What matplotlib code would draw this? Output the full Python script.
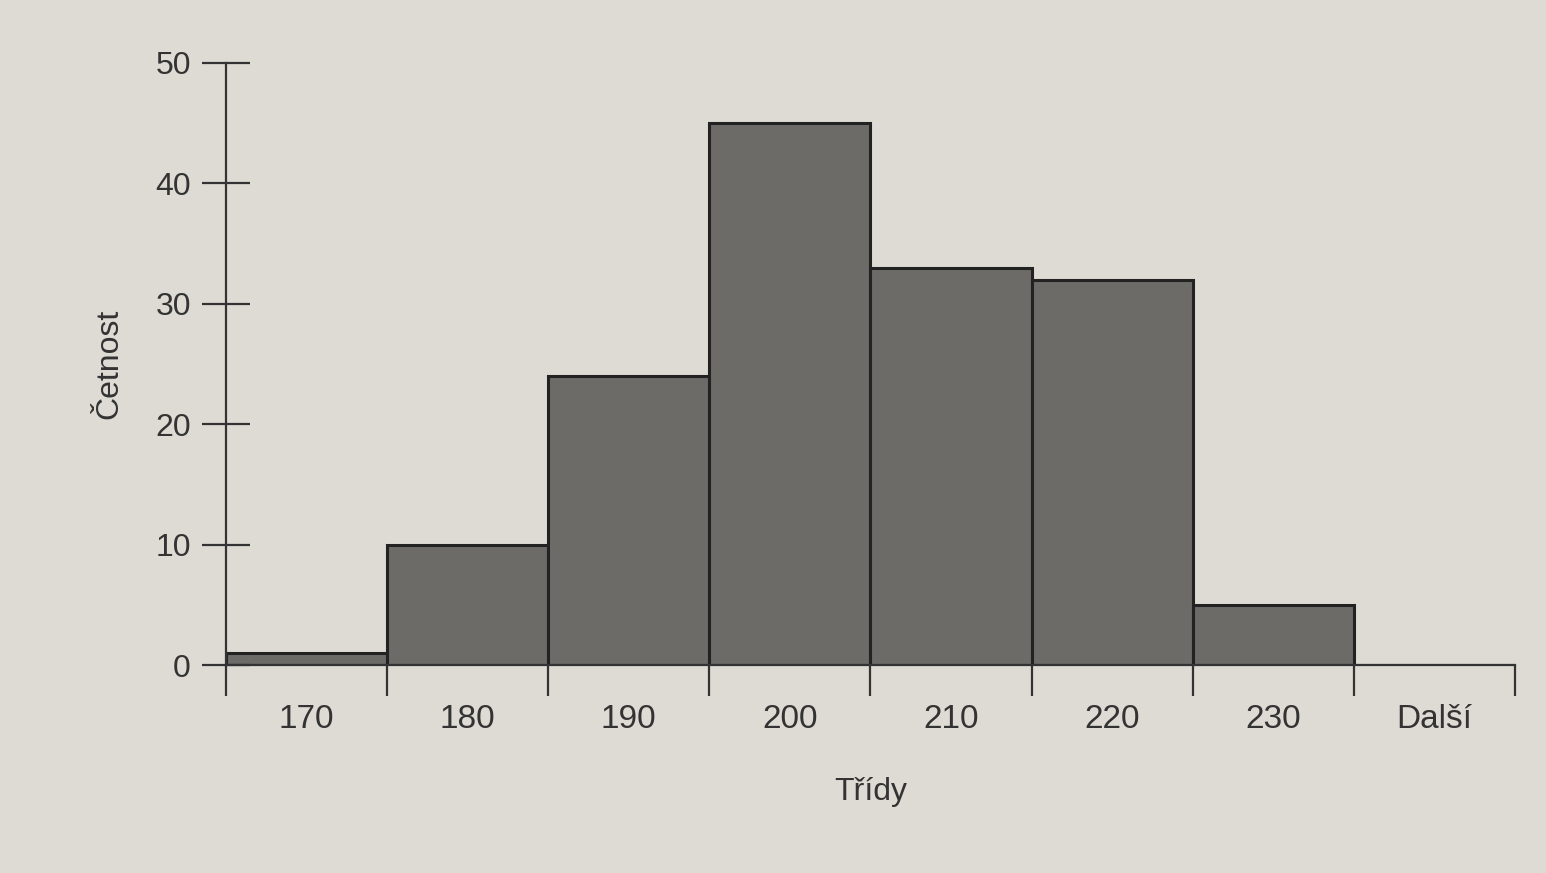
import matplotlib
matplotlib.use("Agg")
import matplotlib.pyplot as plt
import numpy as np

categories = ["170", "180", "190", "200", "210", "220", "230", "Další"]
counts = [1, 10, 24, 45, 33, 32, 5, 0]
y_ticks = [0, 10, 20, 30, 40, 50]

plt.rcParams['font.family'] = ['Liberation Sans', 'DejaVu Sans']

bg = "#dedbd4"
fig = plt.figure(figsize=(15.46, 8.73), dpi=100, facecolor=bg)
ax = fig.add_axes([0.146, 0.238, 0.834, 0.69], facecolor=bg)

x = np.arange(len(categories))
ax.bar(x, counts, width=1.0, color="#6d6b67", edgecolor="#222222", linewidth=2.2, align="center")

ax.set_xlim(-0.5, len(categories) - 0.5)
ax.set_ylim(0, 50)

for s in ["top", "right"]:
    ax.spines[s].set_visible(False)
for s in ["left", "bottom"]:
    ax.spines[s].set_color("#333333")
    ax.spines[s].set_linewidth(1.6)

ax.set_yticks(y_ticks)
ax.set_yticklabels([str(v) for v in y_ticks])
ax.tick_params(axis="y", direction="inout", length=34, width=1.6, colors="#333333",
               labelsize=23, pad=8)

# bin boundaries as major ticks, labels at centres as minor ticks
ax.set_xticks(np.arange(len(categories) + 1) - 0.5)
ax.set_xticklabels([])
ax.tick_params(axis="x", which="major", direction="out", length=22, width=1.6, colors="#333333")
ax.set_xticks(x, minor=True)
ax.set_xticklabels(categories, minor=True)
ax.tick_params(axis="x", which="minor", length=0, labelsize=24, pad=28, labelcolor="#333333")

ax.set_ylabel("Četnost", fontsize=23, color="#333333", labelpad=22)
ax.set_xlabel("Třídy", fontsize=23, color="#333333", labelpad=30)

fig.savefig("out.png", dpi=100, facecolor=bg)
